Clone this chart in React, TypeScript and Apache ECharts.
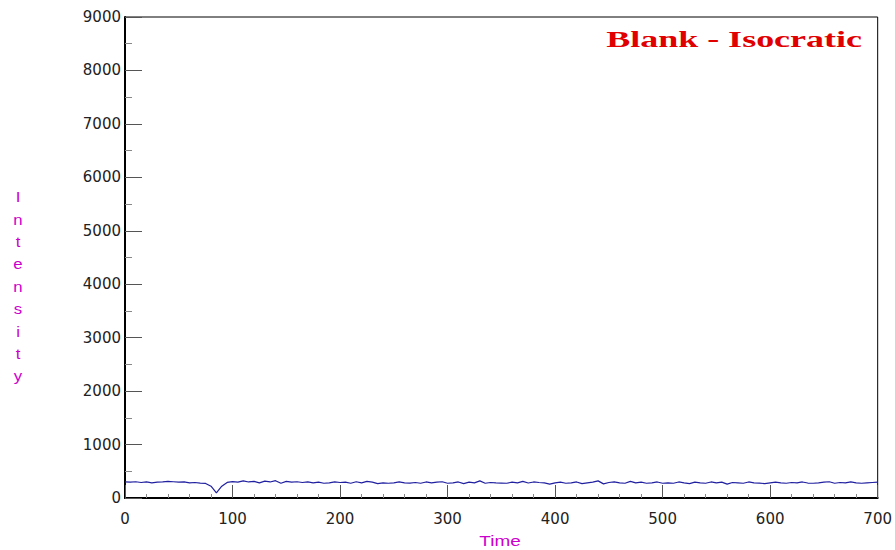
import React, { useEffect, useRef } from "react";
import * as echarts from "echarts";

const TITLE = "Blank - Isocratic";
const X_NAME = "Time";
const Y_NAME = "Intensity";
const STEP = 5;

// Intensity sampled every 5 time units from 0 to 700
const intensities: number[] = [
  // 0 - 70
  300, 296, 304, 290, 300, 284, 296, 300, 310, 304, 296, 300, 284, 290, 280,
  // 75 - 100 (dip)
  272, 220, 95, 220, 292, 305,
  // 105 - 200
  296, 320, 300, 312, 284, 316, 300, 324, 276, 310, 296, 304, 290, 300, 284, 296, 276, 284, 300, 290,
  // 205 - 300
  296, 276, 304, 284, 310, 296, 270, 284, 276, 284, 300, 284, 280, 290, 276, 300, 284, 296, 304, 276,
  // 305 - 400
  284, 300, 270, 296, 284, 320, 276, 290, 284, 280, 276, 296, 284, 310, 280, 300, 290, 284, 260, 284,
  // 405 - 500
  296, 276, 284, 300, 270, 284, 296, 320, 264, 290, 300, 284, 276, 310, 284, 296, 276, 284, 300, 276,
  // 505 - 600
  284, 276, 300, 284, 270, 296, 284, 276, 300, 284, 296, 260, 290, 284, 276, 300, 284, 280, 270, 284,
  // 605 - 700
  296, 284, 276, 290, 284, 300, 280, 276, 284, 296, 304, 276, 290, 284, 300, 284, 276, 284, 290, 296,
];

const X_MIN = 0;
const X_MAX = 700;
const X_INTERVAL = 100;
const Y_MIN = 0;
const Y_MAX = 9000;
const Y_INTERVAL = 1000;

export default function App() {
  const ref = useRef<HTMLDivElement>(null);
  useEffect(() => {
    if (!ref.current) return;
    const chart = echarts.init(ref.current, undefined, { renderer: "svg" });
    const data = intensities.map((v, i) => [i * STEP, v]);
    const labelFont = "'DejaVu Sans', Verdana, sans-serif";
    chart.setOption({
      animation: false,
      backgroundColor: "#fff",
      grid: {
        left: 125,
        right: 17,
        top: 17,
        bottom: 52,
        show: true,
        borderColor: "#000",
        borderWidth: 1,
        backgroundColor: "transparent",
      },
      xAxis: {
        type: "value",
        min: X_MIN,
        max: X_MAX,
        interval: X_INTERVAL,
        splitLine: { show: false },
        axisLine: { show: true, onZero: false, lineStyle: { color: "#000", width: 2 } },
        axisTick: { show: true, inside: true, length: 13, lineStyle: { color: "#555" } },
        minorTick: { show: true, splitNumber: 5, length: 4, lineStyle: { color: "#888" } },
        axisLabel: {
          color: "#222",
          fontFamily: labelFont,
          fontSize: 15,
          margin: 13,
          formatter: (v: number) => String(v),
        },
      },
      yAxis: {
        type: "value",
        min: Y_MIN,
        max: Y_MAX,
        interval: Y_INTERVAL,
        splitLine: { show: false },
        axisLine: { show: true, onZero: false, lineStyle: { color: "#000", width: 2 } },
        axisTick: { show: true, inside: true, length: 17, lineStyle: { color: "#555" } },
        minorTick: { show: true, splitNumber: 2, length: 7, lineStyle: { color: "#888" } },
        axisLabel: {
          color: "#222",
          fontFamily: labelFont,
          fontSize: 15,
          margin: 4,
          formatter: (v: number) => String(v),
        },
      },
      series: [
        {
          type: "line",
          data,
          showSymbol: false,
          lineStyle: { color: "#2020a0", width: 1.2 },
        },
      ],
      graphic: [
        {
          type: "text",
          x: 862,
          y: 39,
          scaleX: 1.5,
          style: {
            text: TITLE,
            fill: "#e00000",
            font: "bold 24px 'Liberation Serif', 'Times New Roman', serif",
            align: "right",
            verticalAlign: "middle",
          },
        },
        {
          type: "text",
          x: 18,
          y: 186,
          scaleX: 1.2,
          style: {
            text: Y_NAME.split("").join("\n"),
            fill: "#cc00cc",
            font: "14px 'Liberation Sans', Arial, sans-serif",
            lineHeight: 22.4,
            align: "center",
            verticalAlign: "top",
          },
        },
        {
          type: "text",
          x: 500,
          y: 541,
          scaleX: 1.35,
          style: {
            text: X_NAME,
            fill: "#cc00cc",
            font: "14px 'Liberation Sans', Arial, sans-serif",
            align: "center",
            verticalAlign: "middle",
          },
        },
      ],
    });
    return () => chart.dispose();
  }, []);
  return (
    <div
      ref={ref}
      style={{ position: "fixed", left: 0, top: 0, width: 895, height: 550 }}
    />
  );
}
